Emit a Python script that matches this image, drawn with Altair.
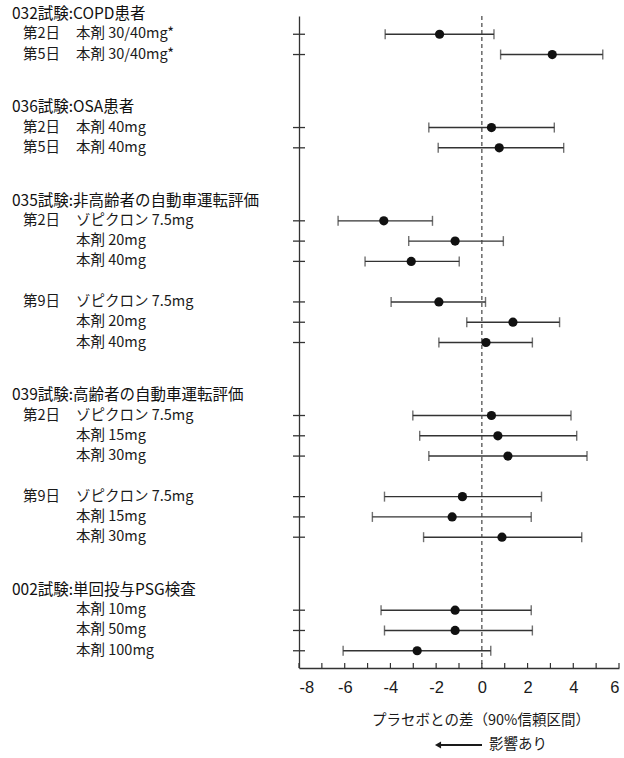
import altair as alt
import pandas as pd

# ---- data ----
group_titles = [
    "032試験:COPD患者",
    "036試験:OSA患者",
    "035試験:非高齢者の自動車運転評価",
    "039試験:高齢者の自動車運転評価",
    "002試験:単回投与PSG検査",
]
row_group = [0, 0, 1, 1, 2, 2, 2, 2, 2, 2, 3, 3, 3, 3, 3, 3, 4, 4, 4]
# rows inside the same group but a different "day" block that are separated by a gap
row_block = [0, 0, 0, 0, 0, 0, 0, 1, 1, 1, 0, 0, 0, 1, 1, 1, 0, 0, 0]
day_labels = ["第2日", "第5日", "第2日", "第5日",
              "第2日", "", "", "第9日", "", "",
              "第2日", "", "", "第9日", "", "",
              "", "", ""]
treat_labels = ["本剤 30/40mg*", "本剤 30/40mg*", "本剤 40mg", "本剤 40mg",
                "ゾピクロン 7.5mg", "本剤 20mg", "本剤 40mg",
                "ゾピクロン 7.5mg", "本剤 20mg", "本剤 40mg",
                "ゾピクロン 7.5mg", "本剤 15mg", "本剤 30mg",
                "ゾピクロン 7.5mg", "本剤 15mg", "本剤 30mg",
                "本剤 10mg", "本剤 50mg", "本剤 100mg"]
estimate = [-1.85, 3.08, 0.42, 0.76,
            -4.29, -1.17, -3.09, -1.88, 1.36, 0.18,
            0.42, 0.70, 1.14, -0.85, -1.30, 0.88,
            -1.17, -1.17, -2.83]
ci_low = [-4.23, 0.82, -2.32, -1.91,
          -6.29, -3.20, -5.11, -3.97, -0.66, -1.88,
          -3.02, -2.72, -2.32, -4.26, -4.79, -2.55,
          -4.41, -4.26, -6.07]
ci_high = [0.53, 5.29, 3.17, 3.58,
           -2.16, 0.94, -0.99, 0.16, 3.40, 2.21,
           3.90, 4.15, 4.60, 2.61, 2.16, 4.37,
           2.16, 2.21, 0.39]
x_ticks = list(range(-8, 7))
x_labels = list(range(-8, 7, 2))
x_title = "プラセボとの差（90%信頼区間）"
arrow_label = "影響あり"

# ---- row order -> position on the y scale ----
pos = []
p = 0.0
for i in range(len(row_group)):
    if i == 0:
        p = 1.0
    elif row_group[i] != row_group[i - 1]:
        p += 3.6
    elif row_block[i] != row_block[i - 1]:
        p += 2.0
    else:
        p += 1.0
    pos.append(p)

rows = pd.DataFrame({
    "pos": pos, "day": day_labels, "treat": treat_labels,
    "est": estimate, "lo": ci_low, "hi": ci_high, "grp": row_group,
})
headers = rows.groupby("grp", as_index=False)["pos"].min()
headers["pos"] = headers["pos"] - 1.0
headers["title"] = [group_titles[g] for g in headers["grp"]]
days = rows[rows["day"] != ""]
ticks_df = pd.DataFrame({"t": x_ticks})
zero_df = pd.DataFrame({"v": [0]})

W, H = 320, 652
PAD_L, PAD_T = 299, 16
FONT = "Noto Sans CJK JP"
TICKFONT = "Liberation Sans"

xs = alt.Scale(domain=[-8, 6], nice=False, zero=False)
ys = alt.Scale(domain=[0.1, 32.25], nice=False, zero=False, reverse=True)
xaxis = alt.Axis(values=x_labels, ticks=False, domain=True, domainColor="#333",
                 domainWidth=1.3, grid=False, title=None, labelFontSize=16.5,
                 labelColor="#1a1a1a", labelFont=TICKFONT, labelPadding=11,
                 labelExpr="'' + datum.value")
yaxis = alt.Axis(ticks=False, labels=False, domain=True, domainColor="#333",
                 domainWidth=1.3, grid=False, title=None)

base = alt.Chart(rows)

ci = base.mark_rule(color="#333", strokeWidth=1.4).encode(
    x=alt.X("lo:Q", scale=xs, axis=xaxis),
    x2="hi:Q",
    y=alt.Y("pos:Q", scale=ys, axis=yaxis),
)
cap_lo = base.mark_tick(orient="vertical", size=10, thickness=1.4, color="#333").encode(
    x=alt.X("lo:Q", scale=xs, axis=xaxis), y=alt.Y("pos:Q", scale=ys, axis=yaxis))
cap_hi = base.mark_tick(orient="vertical", size=10, thickness=1.4, color="#333").encode(
    x=alt.X("hi:Q", scale=xs, axis=xaxis), y=alt.Y("pos:Q", scale=ys, axis=yaxis))
pts = base.mark_circle(size=85, color="#111", opacity=1).encode(
    x=alt.X("est:Q", scale=xs, axis=xaxis), y=alt.Y("pos:Q", scale=ys, axis=yaxis))

zero_line = alt.Chart(zero_df).mark_rule(strokeDash=[4, 3], color="#444", strokeWidth=1.2).encode(
    x=alt.X("v:Q", scale=xs, axis=xaxis))

ytick = base.mark_rule(color="#333", strokeWidth=1.3).encode(
    x=alt.value(-6), x2=alt.value(6), y=alt.Y("pos:Q", scale=ys, axis=yaxis))
xtick = alt.Chart(ticks_df).mark_rule(color="#333", strokeWidth=1.2).encode(
    x=alt.X("t:Q", scale=xs, axis=xaxis), y=alt.value(H), y2=alt.value(H - 5))

hdr_text = alt.Chart(headers).mark_text(align="left", baseline="middle", fontSize=15.5,
                                        font=FONT, color="#111").encode(
    x=alt.value(12 - PAD_L), y=alt.Y("pos:Q", scale=ys, axis=yaxis), text="title:N")
day_text = alt.Chart(days).mark_text(align="left", baseline="middle", fontSize=14.5,
                                     font=FONT, color="#1a1a1a").encode(
    x=alt.value(23 - PAD_L), y=alt.Y("pos:Q", scale=ys, axis=yaxis), text="day:N")
trt_text = base.mark_text(align="left", baseline="middle", fontSize=14.5,
                          font=FONT, color="#1a1a1a").encode(
    x=alt.value(76 - PAD_L), y=alt.Y("pos:Q", scale=ys, axis=yaxis), text="treat:N")

title_text = alt.Chart(pd.DataFrame({"s": [x_title]})).mark_text(
    align="center", baseline="middle", fontSize=14.5, font=FONT, color="#1a1a1a").encode(
    x=alt.value(481 - PAD_L), y=alt.value(721 - PAD_T), text="s:N")
arrow_line = alt.Chart(pd.DataFrame({"s": [arrow_label]})).mark_rule(
    color="#1a1a1a", strokeWidth=2).encode(
    x=alt.value(440 - PAD_L), x2=alt.value(482 - PAD_L), y=alt.value(745 - PAD_T))
arrow_head = alt.Chart(pd.DataFrame({"s": [arrow_label]})).mark_point(
    shape="triangle-left", filled=True, size=50, color="#1a1a1a", opacity=1).encode(
    x=alt.value(438 - PAD_L), y=alt.value(745 - PAD_T))
arrow_text = alt.Chart(pd.DataFrame({"s": [arrow_label]})).mark_text(
    align="left", baseline="middle", fontSize=14.5, font=FONT, color="#1a1a1a").encode(
    x=alt.value(489 - PAD_L), y=alt.value(745 - PAD_T), text="s:N")

chart = alt.layer(
    ci, zero_line, cap_lo, cap_hi, pts, ytick, xtick,
    hdr_text, day_text, trt_text, title_text, arrow_line, arrow_head, arrow_text,
).properties(
    width=W, height=H,
    autosize=alt.AutoSizeParams(type="none"),
    padding={"left": PAD_L, "top": PAD_T, "right": 624 - PAD_L - W, "bottom": 758 - PAD_T - H},
    background="white",
).configure_view(stroke=None)

chart.save("out.html", embed_options={"renderer": "svg", "actions": False})
